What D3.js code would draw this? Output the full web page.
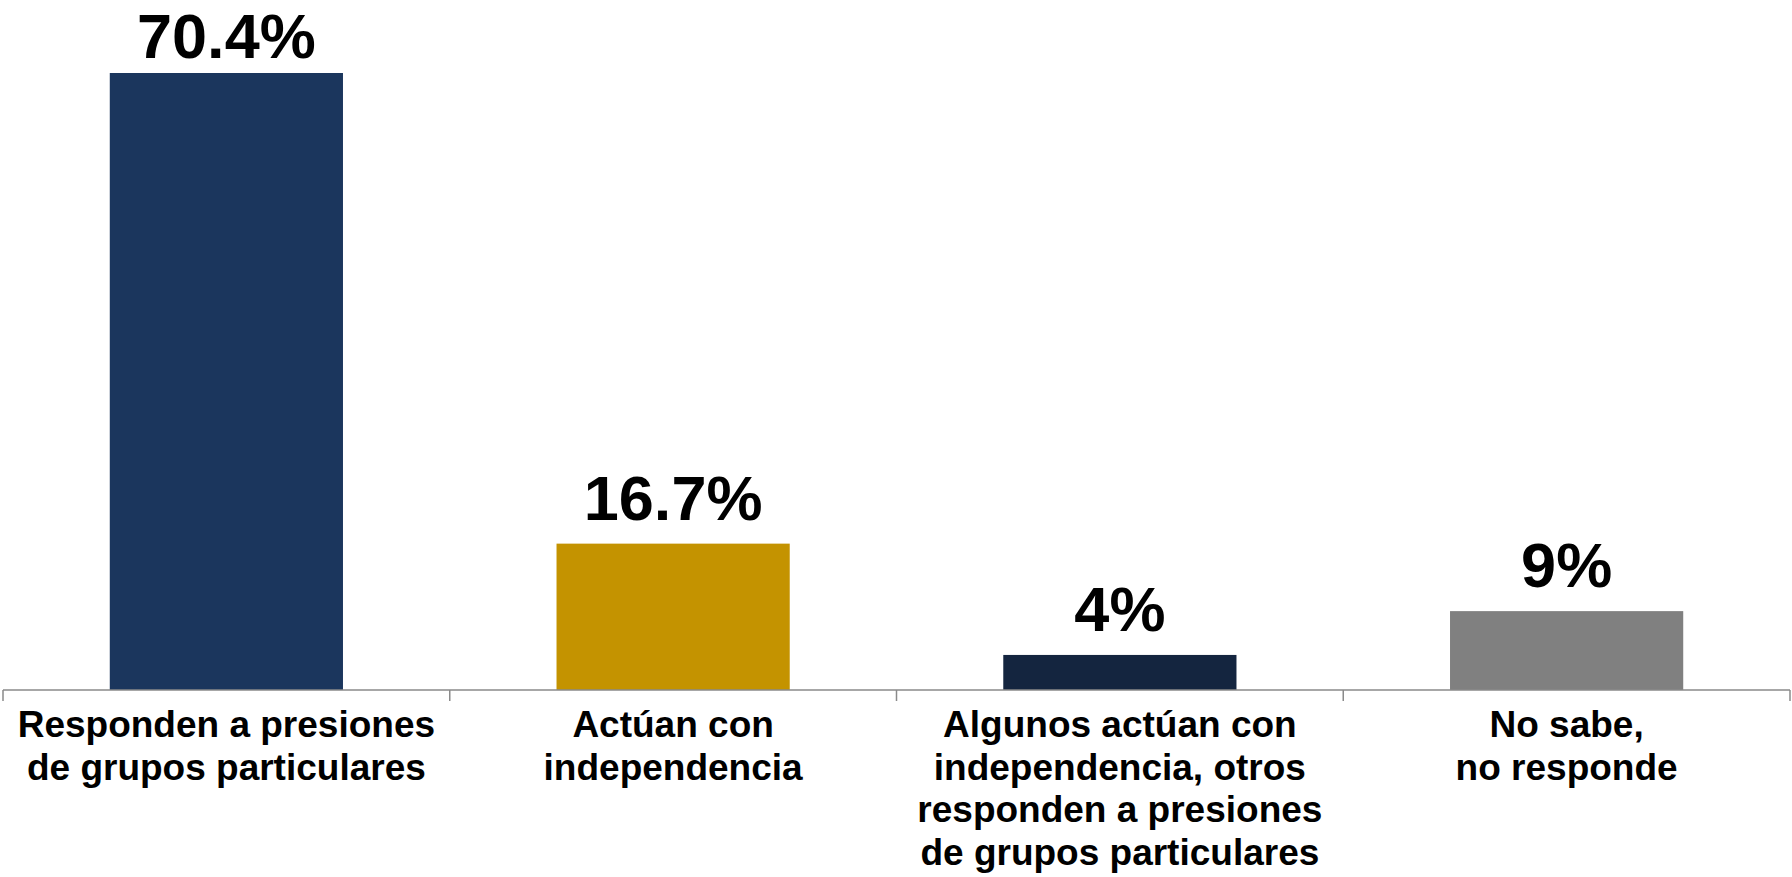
<!DOCTYPE html>
<html>
<head>
<meta charset="utf-8">
<script src="https://cdn.jsdelivr.net/npm/d3@7"></script>
<style>
  body { margin: 0; background: #fff; }
  svg { display: block; font-family: "Liberation Sans", Arial, sans-serif; }
</style>
</head>
<body>
<div id="chart"></div>
<script>
// data
const categories = ["resp", "indep", "algunos", "nsnr"];
const categoryLines = [
    ["Responden a presiones", "de grupos particulares"],
    ["Actúan con", "independencia"],
    ["Algunos actúan con", "independencia, otros", "responden a presiones", "de grupos particulares"],
    ["No sabe,", "no responde"]
];
const values = [70.4, 16.7, 4, 9];
const valueLabels = ["70.4%", "16.7%", "4%", "9%"];
const barColors = ["#1b365d", "#c49300", "#14253f", "#808080"];

const width = 1792, height = 877;
const axisY = 690;

const x = d3.scaleBand().domain(categories).range([3, 1790]).padding(0);
const y = d3.scaleLinear().domain([0, 70.4]).range([axisY, 73]);
const barW = x.bandwidth() * 0.522;

const svg = d3.select("#chart").append("svg")
    .attr("width", width)
    .attr("height", height);

// bars
svg.selectAll("rect.bar")
    .data(values)
    .enter().append("rect")
    .attr("class", "bar")
    .attr("x", (d, i) => x(categories[i]) + (x.bandwidth() - barW) / 2)
    .attr("y", d => y(d))
    .attr("width", barW)
    .attr("height", d => axisY - y(d))
    .style("fill", (d, i) => barColors[i]);

// value labels (top one kept inside the frame)
svg.selectAll("text.value")
    .data(values)
    .enter().append("text")
    .attr("class", "value")
    .attr("x", (d, i) => x(categories[i]) + x.bandwidth() / 2)
    .attr("y", d => Math.max(y(d) - 24, 58))
    .attr("text-anchor", "middle")
    .style("font-size", "63px")
    .style("font-weight", "bold")
    .style("fill", "#000")
    .text((d, i) => valueLabels[i]);

// axis line + ticks at band edges
svg.append("line")
    .attr("x1", x.range()[0]).attr("x2", x.range()[1])
    .attr("y1", axisY).attr("y2", axisY)
    .style("stroke", "#8a8a8a")
    .style("stroke-width", 1.5);

const tickPos = categories.map(c => x(c)).concat([x.range()[1]]);
svg.selectAll("line.tick")
    .data(tickPos)
    .enter().append("line")
    .attr("class", "tick")
    .attr("x1", d => d).attr("x2", d => d)
    .attr("y1", axisY).attr("y2", axisY + 11)
    .style("stroke", "#8a8a8a")
    .style("stroke-width", 1.5);

// category labels
const catLabel = svg.selectAll("text.cat")
    .data(categoryLines)
    .enter().append("text")
    .attr("class", "cat")
    .attr("text-anchor", "middle")
    .style("font-size", "37px")
    .style("font-weight", "bold")
    .style("fill", "#000");

catLabel.selectAll("tspan")
    .data((d, i) => d.map(line => ({line, i})))
    .enter().append("tspan")
    .attr("x", d => x(categories[d.i]) + x.bandwidth() / 2)
    .attr("y", (d, j) => 737 + j * 42.7)
    .text(d => d.line);
</script>
</body>
</html>
